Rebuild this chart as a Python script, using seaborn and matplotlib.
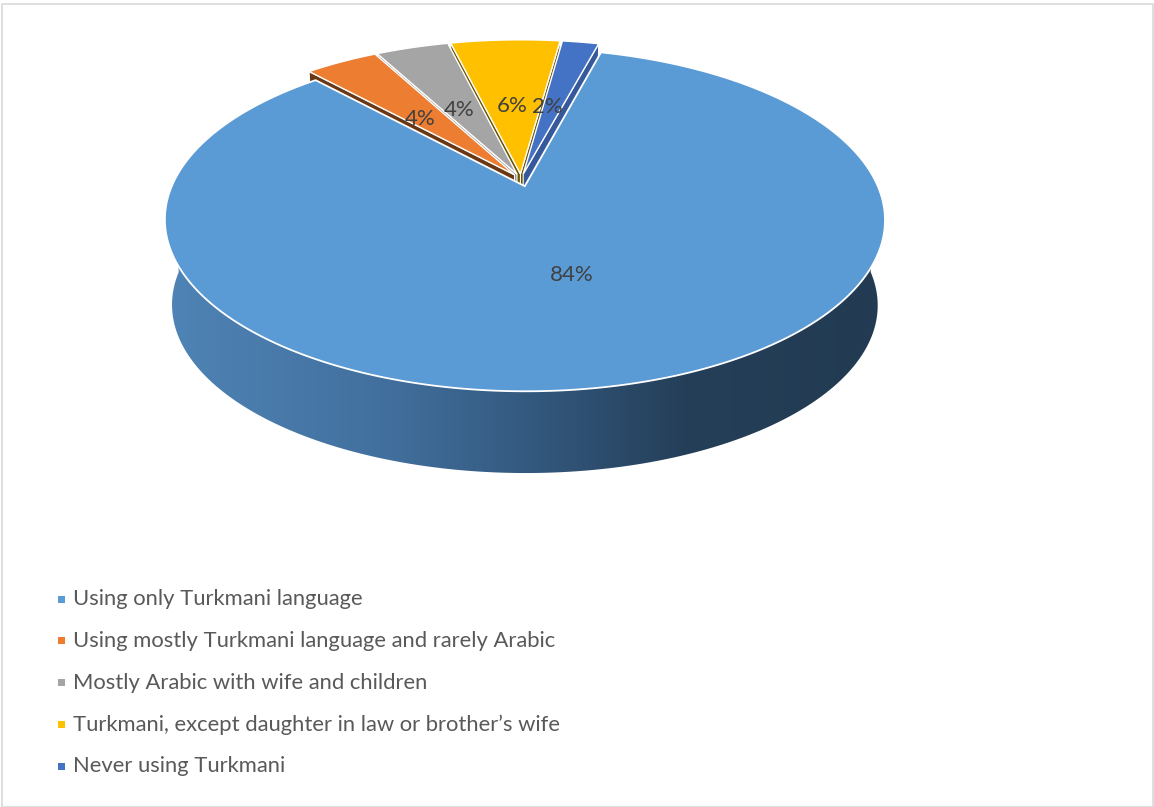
import numpy as np
import matplotlib
matplotlib.use("Agg")
import matplotlib.pyplot as plt
from matplotlib.patches import Polygon, Rectangle
from matplotlib.colors import LinearSegmentedColormap
import seaborn as sns

# ---- data -------------------------------------------------------------
categories = [
    "Using only Turkmani language",
    "Using mostly Turkmani language and rarely Arabic",
    "Mostly Arabic with wife and children",
    "Turkmani, except daughter in law or brother\u2019s wife",
    "Never using Turkmani",
]
shares = [84, 4, 4, 6, 2]
pct_labels = ["84%", "4%", "4%", "6%", "2%"]

# ---- style ------------------------------------------------------------
top_colors = sns.color_palette(["#5B9BD5", "#ED7D31", "#A5A5A5", "#FFC000", "#4472C4"])
side_colors = ["#3A6690", "#6B3816", "#8A8A8A", "#6E5400", "#35599A"]
explode = [0.045, 0.032, 0.032, 0.032, 0.032]
label_radius = [0.5, 0.51, 0.51, 0.51, 0.51]
label_nudge_x = [0, 0, 0, 0, -8]
label_nudge_y = [0, 6, 6, 6, 6]

sns.set_theme(style="white")
plt.rcParams["font.family"] = ["Lato", "DejaVu Sans"]

W, H = 1154, 807
fig = plt.figure(figsize=(W / 100, H / 100), dpi=100)
ax = fig.add_axes([0, 0, 1, 1])
ax.set_xlim(0, W)
ax.set_ylim(H, 0)
ax.axis("off")

# chart-area frame
fig.patches.append(Rectangle((1.5 / W, 0), (W - 3) / W, (H - 3.5) / H,
                             transform=fig.transFigure, fill=False,
                             edgecolor="#D9D9D9", linewidth=1.2))

# ---- 3-D pie projection ----------------------------------------------
CX, CY = 521.0, 179.0       # projected centre of the top face
RX, RY = 350.0, 162.0       # radii of the top face
PERSP = 0.195               # perspective foreshortening of the far side
DEPTH = 86.0                # thickness of the pie
BOTTOM_SCALE = 0.98         # bottom face slightly smaller (further away)
START = 15.0                # first slice angle, clockwise from the far side


def project(u, v, bottom=False):
    w = 1.0 + PERSP * v
    x = CX + RX * u / w
    y = CY - RY * v / w
    if bottom:
        x = CX + (x - CX) * BOTTOM_SCALE
        y = CY + (y - CY) * BOTTOM_SCALE + DEPTH
    return x, y


def slice_point(r, theta, off, bottom=False):
    t = np.radians(theta)
    return project(off[0] + r * np.sin(t), off[1] + r * np.cos(t), bottom)


def arc(a1, a2, off, bottom=False, n=200):
    th = np.linspace(a1, a2, n)
    return np.array([slice_point(1.0, t, off, bottom) for t in th])


total = float(sum(shares))
bounds = []
a = START
for s in shares:
    span = 360.0 * s / total
    bounds.append((a, a + span))
    a += span

offsets = []
for (a1, a2), e in zip(bounds, explode):
    m = np.radians((a1 + a2) / 2)
    offsets.append((e * np.sin(m), e * np.cos(m)))

# small slices behind the main one: visible radial faces (back to front),
# then their tops
faces = []
for i in range(1, len(shares)):
    a1, a2 = bounds[i]
    if np.sin(np.radians(a1)) < 0:
        faces.append((abs(np.sin(np.radians(a1))), i, a1))
    if np.sin(np.radians(a2)) > 0:
        faces.append((abs(np.sin(np.radians(a2))), i, a2))
for _, i, fa in sorted(faces):
    off = offsets[i]
    pts = [slice_point(0, fa, off), slice_point(1, fa, off),
           slice_point(1, fa, off, True), slice_point(0, fa, off, True)]
    ax.add_patch(Polygon(pts, closed=True, facecolor=side_colors[i],
                         edgecolor="white", linewidth=0.8, zorder=1))
for i in range(1, len(shares)):
    a1, a2 = bounds[i]
    off = offsets[i]
    pts = np.vstack([[slice_point(0, a1, off)], arc(a1, a2, off)])
    ax.add_patch(Polygon(pts, closed=True, facecolor=top_colors[i],
                         edgecolor="white", linewidth=1.0, zorder=2))

# main slice: shaded front wall with a horizontal gradient
off0 = offsets[0]
front_top = arc(90, 270, off0)
front_bot = arc(90, 270, off0, bottom=True)
wall = Polygon(np.vstack([front_top, front_bot[::-1]]), closed=True,
               facecolor="none", edgecolor="none", zorder=3)
ax.add_patch(wall)
wall_cmap = LinearSegmentedColormap.from_list(
    "wall", [(0.0, "#4F84B6"), (0.3, "#42709E"), (0.5, "#345A80"),
             (0.72, "#253F59"), (1.0, "#223B52")])
grad = np.linspace(0, 1, 512)[None, :]
x_left = CX - RX * 1.02
x_right = CX + RX * 1.04
img = ax.imshow(grad, cmap=wall_cmap, aspect="auto", zorder=3,
                extent=[x_left, x_right, CY + RY * 1.6 + DEPTH, CY - 10],
                interpolation="bilinear")
img.set_clip_path(wall)

a1, a2 = bounds[0]
main_top = np.vstack([[slice_point(0, a1, off0)], arc(a1, a2, off0, n=600)])
ax.add_patch(Polygon(main_top, closed=True, facecolor=top_colors[0],
                     edgecolor="white", linewidth=1.3, zorder=4))
ax.set_xlim(0, W)
ax.set_ylim(H, 0)

# percentage labels
for i, lab in enumerate(pct_labels):
    a1, a2 = bounds[i]
    x, y = slice_point(label_radius[i], (a1 + a2) / 2, offsets[i])
    ax.text(x + label_nudge_x[i], y + label_nudge_y[i], lab, ha="center",
            va="center", fontsize=16, color="#404040", zorder=6)

# legend
LEG_X, LEG_Y, LEG_STEP = 61, 599, 41.8
for i, (cat, col) in enumerate(zip(categories, top_colors)):
    y = LEG_Y + i * LEG_STEP
    ax.add_patch(Rectangle((LEG_X - 3.5, y - 3.5), 7, 7, facecolor=col,
                           edgecolor="none", zorder=6))
    ax.text(LEG_X + 12, y, cat, ha="left", va="center", fontsize=15.8,
            color="#595959", zorder=6)

fig.savefig("out.png", dpi=100, facecolor="white")
